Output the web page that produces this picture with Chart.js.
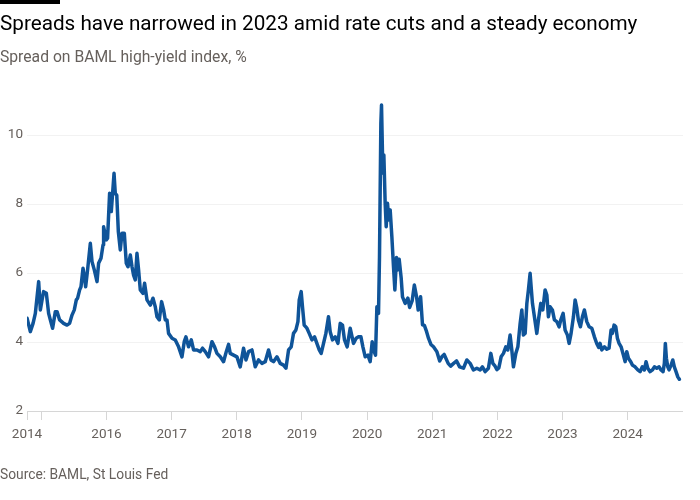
<!DOCTYPE html>
<html><head><meta charset="utf-8">
<script src="https://cdn.jsdelivr.net/npm/chart.js@4.4.1/dist/chart.umd.min.js"></script>
<style>
html,body{margin:0;padding:0;background:#fff;}
#wrap{position:relative;width:700px;height:500px;overflow:hidden;font-family:Roboto, "Noto Sans", sans-serif;}
#bar{position:absolute;left:0;top:0;width:60px;height:4px;background:#000;}
#title{position:absolute;left:0;top:11px;font-size:20.7px;line-height:24px;color:#000;white-space:nowrap;}
#subtitle{position:absolute;left:0;top:48px;font-size:15.7px;line-height:18px;color:#66605c;white-space:nowrap;}
#source{position:absolute;left:0;top:466px;font-size:13.8px;line-height:16px;color:#66605c;white-space:nowrap;}
canvas{position:absolute;left:0;top:0;}
</style></head><body>
<div id="wrap">
<canvas id="c" width="700" height="500"></canvas>
<div id="bar"></div>
<div id="title">Spreads have narrowed in 2023 amid rate cuts and a steady economy</div>
<div id="subtitle">Spread on BAML high-yield index, %</div>
<div id="source">Source: BAML, St Louis Fed</div>
</div>
<script>
// Dates as decimal years
const weeks = [
2014.781,2014.831,2014.873,2014.908,2014.959,2014.985,2015.011,2015.035,2015.077,2015.112,
2015.138,2015.173,2015.215,2015.241,2015.281,2015.342,2015.394,2015.434,2015.471,2015.506,
2015.537,2015.557,2015.588,2015.609,2015.640,2015.660,2015.680,2015.710,2015.752,2015.778,
2015.813,2015.855,2015.879,2015.916,2015.947,2015.956,2015.997,2016.017,2016.048,2016.074,
2016.116,2016.135,2016.158,2016.182,2016.212,
2016.238,2016.274,2016.304,2016.330,2016.366,2016.392,2016.416,2016.442,2016.468,2016.493,
2016.519,2016.561,2016.585,2016.622,2016.673,2016.714,2016.749,2016.775,2016.811,2016.846,
2016.877,2016.903,2016.929,
2016.953,2017.006,2017.056,2017.107,2017.159,2017.194,2017.220,2017.260,2017.302,2017.337,
2017.389,2017.440,2017.475,2017.516,2017.567,2017.619,2017.659,2017.696,2017.747,2017.797,
2017.839,2017.874,
2017.900,2017.951,2018.003,2018.053,2018.104,2018.141,2018.181,2018.233,2018.284,2018.334,
2018.386,2018.437,2018.488,2018.525,2018.564,2018.617,2018.667,2018.718,2018.755,2018.795,
2018.836,2018.871,2018.908,2018.939,2018.959,2018.989,2019.009,2019.035,2019.077,2019.112,
2019.154,2019.194,2019.230,2019.266,2019.296,2019.332,2019.368,2019.408,2019.434,2019.470,
2019.511,2019.553,2019.588,2019.623,2019.654,2019.695,2019.741,
2019.792,2019.833,2019.869,2019.906,2019.936,2019.972,2020.013,2020.048,2020.079,2020.099,
2020.130,2020.151,2020.176,2020.191,2020.212,2020.222,2020.243,2020.258,2020.278,2020.294,
2020.314,2020.335,2020.355,2020.381,2020.406,2020.427,2020.452,2020.467,2020.493,2020.524,
2020.544,2020.585,2020.627,2020.654,2020.693,2020.726,2020.760,2020.785,2020.822,2020.851,
2020.880,2020.914,2020.943,2020.980,2021.020,2021.072,2021.115,2021.148,2021.184,2021.245,
2021.283,2021.329,2021.375,2021.421,2021.480,2021.532,2021.583,2021.633,2021.685,2021.736,
2021.771,2021.813,2021.863,2021.900,2021.931,2021.966,2021.992,2022.023,2022.058,2022.094,
2022.130,2022.161,2022.196,2022.222,2022.247,2022.284,2022.315,2022.350,2022.376,2022.400,
2022.427,2022.453,2022.477,2022.503,2022.519,2022.539,2022.569,2022.606,2022.631,2022.667,
2022.698,2022.733,2022.760,2022.784,2022.810,2022.845,2022.876,2022.913,2022.948,2022.974,
2023.010,2023.040,2023.076,2023.102,2023.132,2023.168,2023.194,2023.220,2023.244,2023.275,
2023.306,2023.336,2023.373,2023.409,2023.450,2023.490,2023.527,2023.556,2023.577,2023.603,
2023.643,2023.680,2023.715,2023.746,2023.766,2023.792,2023.818,2023.843,2023.869,2023.900,
2023.935,2023.961,2023.987,2024.012,2024.048,2024.073,2024.114,2024.156,2024.191,2024.226,
2024.257,2024.283,2024.309,2024.345,2024.380,2024.411,2024.447,2024.483,2024.513,2024.544,
2024.564,2024.579,2024.595,2024.616,2024.636,2024.667,2024.693,2024.717,2024.743,2024.770,
2024.794
];
// High-yield spread, %
const spread = [
4.69,4.30,4.54,4.83,5.75,4.93,5.22,5.46,5.41,4.83,
4.64,4.40,4.88,4.88,4.64,4.54,4.49,4.54,4.78,4.93,
5.22,5.27,5.51,5.60,6.14,5.89,5.60,6.09,6.86,6.33,
6.09,5.75,6.28,6.43,6.81,7.34,6.96,7.01,8.31,7.78,
8.89,8.31,8.25,7.20,6.67,
7.15,7.15,6.28,6.18,6.52,6.18,5.94,5.80,6.57,6.09,
5.51,5.41,5.70,5.22,5.07,5.27,5.02,4.73,4.64,5.17,
4.93,4.64,4.64,
4.25,4.11,4.06,3.86,3.57,4.01,4.15,3.86,4.06,3.77,
3.77,3.72,3.82,3.72,3.57,4.01,3.86,3.67,3.57,3.43,
3.72,3.93,
3.67,3.62,3.57,3.28,3.82,3.48,3.72,3.77,3.28,3.48,
3.38,3.43,3.77,3.48,3.43,3.57,3.38,3.33,3.24,3.77,
3.86,4.25,4.35,4.59,5.22,5.46,5.02,4.49,4.40,4.25,
4.06,4.15,3.96,3.77,3.67,3.96,4.25,4.73,4.30,4.06,
4.15,3.96,4.54,4.49,4.06,3.86,4.40,
3.96,4.11,4.15,4.15,3.86,3.57,3.62,3.43,4.01,3.77,
3.62,5.02,4.83,6.47,10.34,10.87,8.89,9.42,8.02,7.34,
8.02,7.54,7.83,7.05,6.18,5.51,6.45,6.09,6.40,5.85,
5.31,5.12,5.27,5.00,5.20,5.65,5.31,4.93,5.31,4.50,
4.48,4.30,4.11,3.93,3.86,3.72,3.45,3.57,3.64,3.38,
3.30,3.38,3.45,3.28,3.24,3.48,3.38,3.19,3.24,3.19,
3.28,3.14,3.24,3.67,3.38,3.30,3.20,3.25,3.57,3.67,
3.86,3.77,4.20,3.77,3.28,3.67,3.86,4.54,4.93,4.20,
4.25,5.12,5.51,5.99,5.60,5.12,4.73,4.25,4.64,5.12,
4.93,5.51,5.36,4.73,5.02,4.93,4.64,4.59,4.44,4.64,
4.83,4.35,4.20,3.96,4.25,4.73,5.22,4.98,4.64,4.44,
4.73,4.93,4.59,4.44,4.40,4.15,3.95,3.84,3.96,3.77,
3.86,3.79,3.82,4.35,4.25,4.49,4.44,4.11,3.96,3.86,
3.62,3.43,3.72,3.53,3.43,3.33,3.28,3.19,3.14,3.28,
3.19,3.43,3.24,3.14,3.19,3.28,3.24,3.28,3.19,3.14,
3.38,3.96,3.53,3.28,3.19,3.33,3.48,3.28,3.14,2.99,
2.92
];
const xMin = 2014.78, xMax = 2024.85;
const xTickValues = [2014.78, 2015, 2016, 2017, 2018, 2019, 2020, 2021, 2022, 2023, 2024];
const xTickLabels = ['2014', '', '2016', '2017', '2018', '2019', '2020', '2021', '2022', '2023', '2024'];
const yTickValues = [2, 4, 6, 8, 10];
const yMin = 2, yMax = 11;

const tickFont = {family: 'Roboto', size: 13.5};
new Chart(document.getElementById('c'), {
  type: 'line',
  data: {datasets: [{
    data: weeks.map((x, i) => ({x: x, y: spread[i]})),
    borderColor: '#0f5499', borderWidth: 3.5, pointRadius: 0, tension: 0,
    borderJoinStyle: 'round', borderCapStyle: 'round', fill: false
  }]},
  options: {
    responsive: false, animation: false,
    layout: {padding: {left: 0, top: 100.5, right: 17, bottom: 49}},
    plugins: {legend: {display: false}, tooltip: {enabled: false}},
    scales: {
      x: {
        type: 'linear', min: xMin, max: xMax,
        afterBuildTicks: s => { s.ticks = xTickValues.map(v => ({value: v})); },
        afterFit: s => { s.height = 40; },
        grid: {drawOnChartArea: false, drawTicks: true, tickLength: 9, color: '#d6d6d6', lineWidth: 1},
        border: {display: false},
        ticks: {autoSkip: false, maxRotation: 0, minRotation: 0, padding: 7, color: '#66605c', font: tickFont,
          callback: (v, i) => xTickLabels[i]}
      },
      y: {
        min: yMin, max: yMax,
        afterBuildTicks: s => { s.ticks = yTickValues.map(v => ({value: v})); },
        afterFit: s => { s.width = 27; },
        grid: {drawTicks: false, lineWidth: 1, color: c => (c.tick && c.tick.value === 2) ? '#d6d6d6' : '#f2f2f2'},
        border: {display: false},
        ticks: {padding: 4, color: '#66605c', font: tickFont, callback: v => String(v)}
      }
    }
  }
});
</script>
</body></html>
